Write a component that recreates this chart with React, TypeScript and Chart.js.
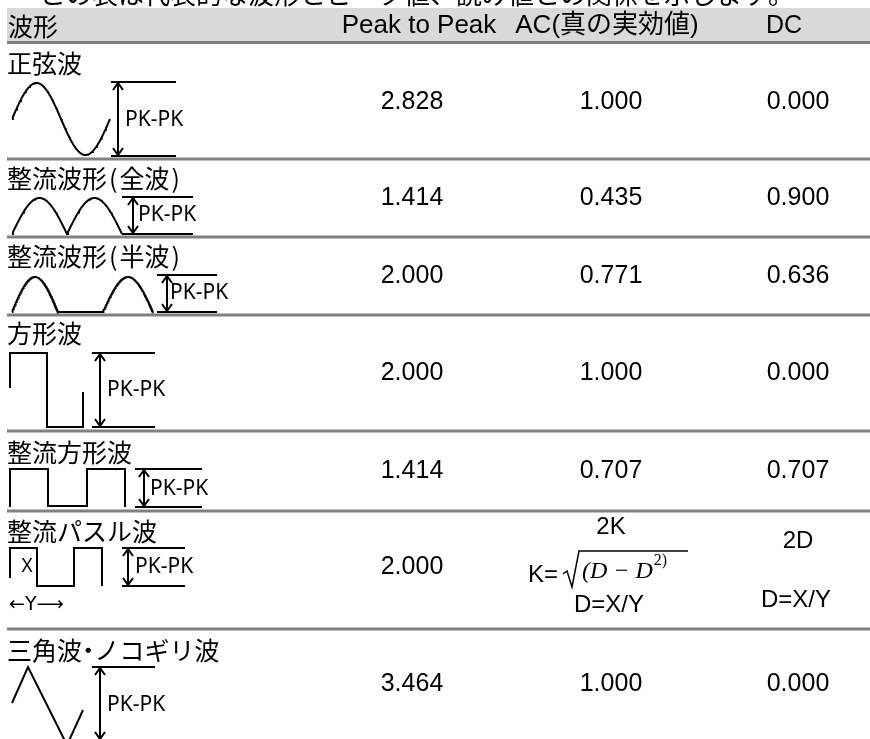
import React, { useEffect, useRef } from "react";
import { Chart, registerables } from "chart.js";

Chart.register(...registerables);

// ---- data ----
const introText = "この表は代表的な波形とピーク値、読み値との関係を示します。";
const headerLabels = ["波形", "Peak to Peak", "AC(真の実効値)", "DC"];
const waveNames = ["正弦波", "整流波形(全波)", "整流波形(半波)", "方形波", "整流方形波", "整流パスル波", "三角波・ノコギリ波"];
const peakToPeak = ["2.828", "1.414", "2.000", "2.000", "1.414", "2.000", "3.464"];
const acTrueRms = ["1.000", "0.435", "0.771", "1.000", "0.707", "", "1.000"];
const dcValues = ["0.000", "0.900", "0.636", "0.000", "0.707", "", "0.000"];
const pulseAcLines = ["2K", "K=", "D=X/Y"];
const pulseDcLines = ["2D", "D=X/Y"];
const pkLabel = "PK-PK";

// ---- layout ----
const W = 870;
const H = 739;
const rowLines = [159, 237, 315, 431, 511, 629];
const rowMid = [102, 198, 276, 373, 471, 567, 684];
const titleY = [63, 178, 256, 333, 452, 531, 650];
const colPP = 412, colAC = 611, colDC = 798;

type P = [number, number];

function seg(points: P[], width = 2, color = "#000") {
  return {
    type: "line" as const,
    data: points.map(([x, y]) => ({ x, y })),
    borderColor: color,
    borderWidth: width,
    pointRadius: 0,
    showLine: true,
    fill: false,
    tension: 0,
    borderCapStyle: "butt" as const,
    borderJoinStyle: "miter" as const,
  };
}

function sinePath(x0: number, x1: number, yc: number, amp: number, mode: "sine" | "full" | "half", cycles: number): P[] {
  const pts: P[] = [];
  const n = 120;
  for (let i = 0; i <= n; i++) {
    const t = i / n;
    const ph = t * cycles * 2 * Math.PI;
    let v = Math.sin(ph);
    if (mode === "full") v = Math.abs(Math.sin(ph / 2));
    if (mode === "half") v = Math.max(0, Math.sin(ph));
    pts.push([x0 + (x1 - x0) * t, yc - amp * v]);
  }
  return pts;
}

function pkArrow(x: number, top: number, bottom: number, l0: number, l1: number, bottomLine = true) {
  const ds: any[] = [];
  ds.push(seg([[x, top], [x, bottom]], 2));
  ds.push(seg([[x - 5, top + 8], [x, top + 1], [x + 5, top + 8]], 2));
  ds.push(seg([[x - 5, bottom - 8], [x, bottom - 1], [x + 5, bottom - 8]], 2));
  ds.push(seg([[l0, top], [l1, top]], 2));
  if (bottomLine) ds.push(seg([[l0, bottom], [l1, bottom]], 2));
  return ds;
}

const pkTexts: { x: number; y: number }[] = [
  { x: 125, y: 120 },
  { x: 138, y: 215 },
  { x: 170, y: 293 },
  { x: 107, y: 390 },
  { x: 150, y: 489 },
  { x: 135, y: 567 },
  { x: 107, y: 705 },
];

export default function App() {
  const ref = useRef<HTMLCanvasElement | null>(null);

  useEffect(() => {
    document.body.style.margin = "0";
    const canvas = ref.current!;
    const datasets: any[] = [];

    // separators
    datasets.push(seg([[7, 42.5], [W, 42.5]], 3, "#808080"));
    rowLines.forEach((y) => datasets.push(seg([[7, y], [W, y]], 3, "#808080")));

    // waveforms
    datasets.push(seg(sinePath(12, 110, 119, 36, "sine", 1), 2));
    datasets.push(...pkArrow(118, 82, 156, 111, 176));

    datasets.push(seg(sinePath(12, 122, 234, 36, "full", 2), 2));
    datasets.push(...pkArrow(133, 197, 234, 122, 193));

    datasets.push(seg([...sinePath(12, 58, 312, 35, "half", 0.5), [103, 312], ...sinePath(103, 153, 312, 35, "half", 0.5)], 2));
    datasets.push(...pkArrow(167, 275, 312, 157, 217));

    datasets.push(seg([[10, 388], [10, 353], [47, 353], [47, 427], [83, 427], [83, 392]], 2));
    datasets.push(...pkArrow(100, 353, 427, 92, 155));

    datasets.push(seg([[10, 507], [10, 469], [48, 469], [48, 506], [87, 506], [87, 469], [125, 469], [125, 507]], 2));
    datasets.push(...pkArrow(144, 469, 507, 135, 202));

    datasets.push(seg([[10, 578], [10, 548], [37, 548], [37, 586], [74, 586], [74, 548], [102, 548], [102, 586]], 2));
    datasets.push(...pkArrow(128, 548, 586, 122, 185));

    datasets.push(seg([[12, 703], [28, 667], [67, 745], [83, 710]], 2));
    datasets.push(...pkArrow(100, 667, 740, 92, 155, false));

    const textPlugin = {
      id: "tableText",
      beforeDatasetsDraw(chart: any) {
        const { ctx, scales } = chart;
        const px = (v: number) => scales.x.getPixelForValue(v);
        const py = (v: number) => scales.y.getPixelForValue(v);
        ctx.save();
        ctx.fillStyle = "#d9d9d9";
        ctx.fillRect(px(7), py(8), px(W) - px(7), py(41) - py(8));
        ctx.restore();
      },
      afterDatasetsDraw(chart: any) {
        const { ctx, scales } = chart;
        const px = (v: number) => scales.x.getPixelForValue(v);
        const py = (v: number) => scales.y.getPixelForValue(v);
        const cjk = '"Noto Sans CJK JP", sans-serif';
        const lat = '"Liberation Sans", "Noto Sans CJK JP", sans-serif';
        const put = (t: string, x: number, y: number, font: string, align: CanvasTextAlign = "center", sx = 1) => {
          ctx.save();
          ctx.font = font;
          ctx.fillStyle = "#000";
          ctx.textAlign = align;
          ctx.textBaseline = "middle";
          ctx.translate(px(x), py(y));
          ctx.scale(sx, 1);
          ctx.fillText(t, 0, 0);
          const w = ctx.measureText(t).width * sx;
          ctx.restore();
          return w;
        };
        // monospaced-style Japanese text: full-width cells + half-width cells
        const putJP = (t: string, x: number, y: number, size: number) => {
          let cx = x;
          for (const ch of Array.from(t)) {
            const code = ch.codePointAt(0)!;
            const half = code < 0x2000 || ch === "・";
            const adv = half ? size * 0.5 : size;
            put(ch, cx + adv / 2, y, `${size}px ${cjk}`, "center");
            cx += adv;
          }
        };
        // cut intro line
        putJP(introText, 40, -6, 26);
        // header
        putJP(headerLabels[0], 8, 26, 25);
        put(headerLabels[1], 419, 26, `26px ${lat}`, "center");
        put(headerLabels[2], 607, 26, `26px ${lat}`, "center");
        put(headerLabels[3], 784, 26, `25px ${lat}`, "center");
        // rows
        waveNames.forEach((n, i) => {
          putJP(n, 7, titleY[i], 25);
          put(peakToPeak[i], colPP, rowMid[i], `25px ${lat}`);
          if (acTrueRms[i]) put(acTrueRms[i], colAC, rowMid[i], `25px ${lat}`);
          if (dcValues[i]) put(dcValues[i], colDC, rowMid[i], `25px ${lat}`);
          put(pkLabel, pkTexts[i].x, pkTexts[i].y, `21px "Noto Sans", sans-serif`, "left");
        });
        // pulse special
        put(pulseAcLines[0], 611, 527, `24px ${lat}`);
        put(pulseAcLines[1], 528, 575, `24px ${lat}`, "left");
        put(pulseAcLines[2], 609, 605, `24px ${lat}`);
        put(pulseDcLines[0], 798, 541, `24px ${lat}`);
        put(pulseDcLines[1], 796, 600, `24px ${lat}`);
        // sqrt formula
        ctx.save();
        ctx.strokeStyle = "#000";
        ctx.lineWidth = 1.5;
        ctx.beginPath();
        ctx.moveTo(px(563), py(574));
        ctx.lineTo(px(567), py(571));
        ctx.lineTo(px(572), py(587));
        ctx.lineTo(px(579), py(551));
        ctx.lineTo(px(688), py(551));
        ctx.stroke();
        ctx.restore();
        const w1 = put("(D − D", 582, 572, `italic 24px "Liberation Serif", serif`, "left");
        put("2)", 582 + w1 + 1, 561, `16px "Liberation Serif", serif`, "left");
        // X and Y labels
        put("X", 27, 567, `19px "Noto Sans", sans-serif`);
        put("←Y⟶", 9, 605, `19px "DejaVu Sans", sans-serif`, "left");
      },
    };

    const chart = new Chart(canvas, {
      type: "scatter",
      data: { datasets },
      options: {
        animation: false,
        responsive: false,
        devicePixelRatio: 1,
        layout: { padding: 0 },
        plugins: { legend: { display: false }, tooltip: { enabled: false } },
        scales: {
          x: { type: "linear", min: 0, max: W, display: false },
          y: { type: "linear", min: 0, max: H, reverse: true, display: false },
        },
        events: [],
      },
      plugins: [textPlugin],
    });
    return () => chart.destroy();
  }, []);

  return (
    <div style={{ position: "absolute", left: 0, top: 0, width: W, height: H, background: "#fff" }}>
      <canvas ref={ref} width={W} height={H} style={{ display: "block" }} />
    </div>
  );
}
